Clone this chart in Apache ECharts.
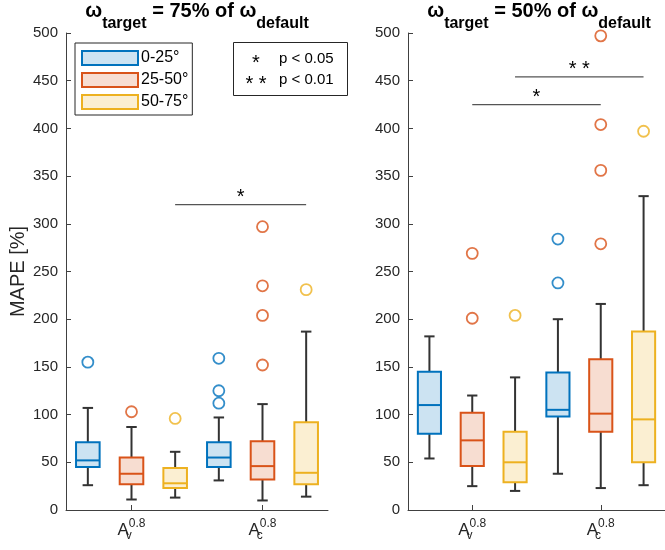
<!DOCTYPE html>
<html>
<head>
<meta charset="utf-8">
<script src="https://cdn.jsdelivr.net/npm/echarts@6/dist/echarts.min.js"></script>
<style>
  html, body { margin: 0; padding: 0; background: #fff; }
  #main { width: 665px; height: 550px; }
</style>
</head>
<body>
<div id="main"></div>
<script>
// group positions on the x axis (A_v, A_c) and angle ranges
var groupPos = [1, 2];
var groupSub = ['v', 'c'];
var rangeNames = ['0-25°', '25-50°', '50-75°'];
var yTicks = [0, 500, 50];

// box stats per group: [low whisker, q1, median, q3, high whisker]
// panel 1: w_target = 75% of w_default
var box75_0_25 = [[26, 45, 52, 71, 107], [31, 45, 55, 71, 97]];
var box75_25_50 = [[11, 27, 38, 55, 87], [10, 32, 46, 72, 111]];
var box75_50_75 = [[13, 23, 28, 44, 61], [14, 27, 39, 92, 187]];
var out75_0_25 = [[155], [159, 125, 112]];
var out75_25_50 = [[103], [297, 235, 204, 152]];
var out75_50_75 = [[96], [231]];

// panel 2: w_target = 50% of w_default
var box50_0_25 = [[54, 80, 110, 145, 182], [38, 98, 105, 144, 200]];
var box50_25_50 = [[25, 46, 73, 102, 120], [23, 82, 101, 158, 216]];
var box50_50_75 = [[20, 29, 50, 82, 139], [26, 50, 95, 187, 329]];
var out50_0_25 = [[], [284, 238]];
var out50_25_50 = [[269, 201], [497, 404, 356, 279]];
var out50_50_75 = [[204], [397]];

// significance bars: [x from, x to, y]
var sig75 = [[1.333, 2.333, 320]];
var sig75Labels = ['*'];
var sig50 = [[1, 2, 425], [1.333, 2.333, 454]];
var sig50Labels = ['*', '* *'];

var titles = ['75%', '50%'];

(function(){
    var myChart = echarts.init(document.getElementById('main'));
    var font = 'Liberation Sans, Arial, sans-serif';
    var lineCol = ['#0072BD', '#D95319', '#EDB120'];
    var fillCol = ['rgba(0,114,189,0.2)', 'rgba(217,83,25,0.2)', 'rgba(237,177,32,0.2)'];
    var offs = [-1 / 3, 0, 1 / 3];

    var boxes = [[box75_0_25, box75_25_50, box75_50_75], [box50_0_25, box50_25_50, box50_50_75]];
    var outs = [[out75_0_25, out75_25_50, out75_50_75], [out50_0_25, out50_25_50, out50_50_75]];
    var sigs = [sig75, sig50];
    var sigLabels = [sig75Labels, sig50Labels];

    function boxRender(k) {
        return function (params, api) {
            var x = api.value(0);
            var lo = api.coord([x, api.value(1)]);
            var q1 = api.coord([x, api.value(2)]);
            var md = api.coord([x, api.value(3)]);
            var q3 = api.coord([x, api.value(4)]);
            var hi = api.coord([x, api.value(5)]);
            var hw = api.size([0.18, 0])[0] / 2;
            var cw = api.size([0.08, 0])[0] / 2;
            var cx = lo[0];
            var wk = { stroke: '#333', lineWidth: 2, fill: null };
            return {
                type: 'group',
                children: [
                    { type: 'line', shape: { x1: cx, y1: q3[1], x2: cx, y2: hi[1] }, style: wk },
                    { type: 'line', shape: { x1: cx, y1: lo[1], x2: cx, y2: q1[1] }, style: wk },
                    { type: 'line', shape: { x1: cx - cw, y1: hi[1], x2: cx + cw, y2: hi[1] }, style: wk },
                    { type: 'line', shape: { x1: cx - cw, y1: lo[1], x2: cx + cw, y2: lo[1] }, style: wk },
                    { type: 'rect', shape: { x: cx - hw, y: q3[1], width: hw * 2, height: q1[1] - q3[1] },
                      style: { fill: fillCol[k], stroke: lineCol[k], lineWidth: 2 } },
                    { type: 'line', shape: { x1: cx - hw, y1: md[1], x2: cx + hw, y2: md[1] },
                      style: { stroke: lineCol[k], lineWidth: 2 } }
                ]
            };
        };
    }

    function sigRender(p) {
        return function (params, api) {
            var a = api.coord([api.value(0), api.value(2)]);
            var b = api.coord([api.value(1), api.value(2)]);
            return {
                type: 'group',
                children: [
                    { type: 'line', shape: { x1: a[0], y1: a[1], x2: b[0], y2: b[1] },
                      style: { stroke: '#555', lineWidth: 1.3 } },
                    { type: 'text', x: (a[0] + b[0]) / 2, y: a[1] + 3,
                      style: { text: sigLabels[p][params.dataIndex], fill: '#000', font: '20px ' + font,
                               align: 'center', verticalAlign: 'bottom' } }
                ]
            };
        };
    }

    var grids = [], xAxes = [], yAxes = [], series = [], titleList = [];
    var gridLeft = [66, 408];
    for (var p = 0; p < 2; p++) {
        grids.push({ left: gridLeft[p], top: 33, width: 262, height: 477 });
        titleList.push({
            text: '{m|ω}{s|target}{m| = ' + titles[p] + ' of ω}{s|default}',
            left: gridLeft[p] + 131, top: 1, textAlign: 'center', padding: 0,
            textStyle: {
                rich: {
                    m: { fontSize: 20, fontWeight: 'bold', fontFamily: font, color: '#000', lineHeight: 22, verticalAlign: 'top' },
                    s: { fontSize: 16, fontWeight: 'bold', fontFamily: font, color: '#000', lineHeight: 31, verticalAlign: 'bottom' }
                }
            }
        });
        xAxes.push({
            type: 'value', gridIndex: p, min: 0.5, max: 2.5,
            splitLine: { show: false },
            axisLine: { lineStyle: { color: '#404040', width: 1 } },
            axisTick: { inside: true, length: 5, customValues: groupPos, lineStyle: { color: '#404040' } },
            axisLabel: {
                customValues: groupPos, margin: 8,
                formatter: function (v) {
                    var i = groupPos.indexOf(v);
                    return '{a|A}{b|' + groupSub[i] + '}{c|0.8}';
                },
                rich: {
                    a: { fontSize: 17, fontFamily: font, color: '#262626', lineHeight: 24, verticalAlign: 'middle' },
                    b: { fontSize: 12, fontFamily: font, color: '#262626', lineHeight: 12, verticalAlign: 'bottom', width: 0 },
                    c: { fontSize: 12, fontFamily: font, color: '#262626', lineHeight: 12, verticalAlign: 'top' }
                }
            }
        });
        yAxes.push({
            type: 'value', gridIndex: p, min: yTicks[0], max: yTicks[1], interval: yTicks[2],
            name: p === 0 ? 'MAPE [%]' : '', nameLocation: 'middle', nameGap: 38,
            nameTextStyle: { fontSize: 20, fontFamily: font, color: '#262626' },
            splitLine: { show: false },
            axisLine: { show: true, lineStyle: { color: '#404040', width: 1 } },
            axisTick: { inside: true, length: 5, lineStyle: { color: '#404040' } },
            axisLabel: { fontSize: 15, fontFamily: font, color: '#262626', margin: 8 }
        });
        for (var k = 0; k < 3; k++) {
            var bd = boxes[p][k].map(function (s, g) {
                return [groupPos[g] + offs[k]].concat(s);
            });
            series.push({
                name: rangeNames[k], type: 'custom', xAxisIndex: p, yAxisIndex: p,
                renderItem: boxRender(k), data: bd, z: 2,
                itemStyle: { color: fillCol[k], borderColor: lineCol[k] }
            });
            var od = [];
            outs[p][k].forEach(function (arr, g) {
                arr.forEach(function (v) { od.push([groupPos[g] + offs[k], v]); });
            });
            series.push({
                name: rangeNames[k], type: 'scatter', xAxisIndex: p, yAxisIndex: p,
                symbol: 'circle', symbolSize: 11, data: od, z: 3,
                itemStyle: { color: 'rgba(255,255,255,0)', borderColor: lineCol[k], borderWidth: 1.8 }
            });
        }
        series.push({
            type: 'custom', xAxisIndex: p, yAxisIndex: p, renderItem: sigRender(p),
            data: sigs[p], z: 4, silent: true
        });
    }

    option = {
        animation: false,
        title: titleList,
        grid: grids,
        xAxis: xAxes,
        yAxis: yAxes,
        legend: {
            orient: 'vertical', left: 75, top: 43,
            padding: [7, 4, 5, 6], itemGap: 6,
            itemWidth: 56, itemHeight: 14, icon: 'rect',
            borderColor: '#262626', borderWidth: 1, backgroundColor: '#fff',
            textStyle: { fontSize: 16, fontFamily: font, color: '#000', padding: [0, 0, 0, -2] },
            data: rangeNames.map(function (n, k) {
                return { name: n, itemStyle: { color: fillCol[k], borderColor: lineCol[k], borderWidth: 2 } };
            })
        },
        graphic: [
            { type: 'rect', left: 233, top: 42, shape: { width: 114, height: 53 },
              style: { fill: '#fff', stroke: '#262626', lineWidth: 1 } },
            { type: 'text', x: 256, y: 63, style: { text: '*', font: '20px ' + font, fill: '#000', align: 'center', verticalAlign: 'middle' } },
            { type: 'text', x: 256, y: 84, style: { text: '* *', font: '20px ' + font, fill: '#000', align: 'center', verticalAlign: 'middle' } },
            { type: 'text', x: 279, y: 59, style: { text: 'p < 0.05', font: '15px ' + font, fill: '#000', verticalAlign: 'middle' } },
            { type: 'text', x: 279, y: 80, style: { text: 'p < 0.01', font: '15px ' + font, fill: '#000', verticalAlign: 'middle' } }
        ],
        series: series
    };
    myChart.setOption(option);
})();
</script>
</body>
</html>
